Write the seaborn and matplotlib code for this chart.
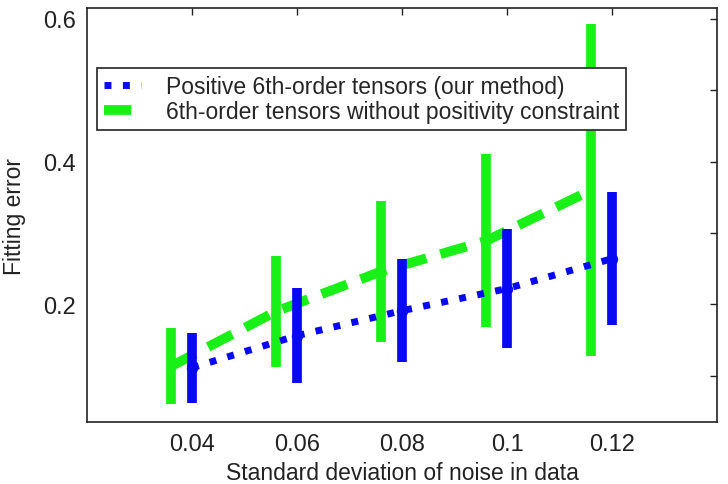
import numpy as np
import pandas as pd
import matplotlib
matplotlib.use('Agg')
import matplotlib.pyplot as plt
import seaborn as sns

sns.set_style('white')
plt.rcParams['font.family'] = ['Liberation Sans', 'DejaVu Sans']

# noise levels (green series is drawn slightly shifted left in the original)
noise_pos = [0.04, 0.06, 0.08, 0.10, 0.12]
noise_free = [0.036, 0.056, 0.076, 0.096, 0.116]

err_pos_mean = [0.111, 0.156, 0.191, 0.222, 0.264]
err_pos_std = [0.049, 0.067, 0.072, 0.084, 0.093]

err_free_mean = [0.113, 0.190, 0.246, 0.289, 0.360]
err_free_std = [0.053, 0.078, 0.099, 0.121, 0.233]

label_pos = 'Positive 6th-order tensors (our method)'
label_free = '6th-order tensors without positivity constraint'

blue = '#0808f2'
green = '#18f018'

df_pos = pd.DataFrame({'noise': noise_pos, 'err': err_pos_mean})
df_free = pd.DataFrame({'noise': noise_free, 'err': err_free_mean})

fig = plt.figure(figsize=(7.28, 4.85), dpi=100)
ax = fig.add_axes([0.1195, 0.128, 0.866, 0.853])

# green series: bars + dashed mean line
ax.errorbar(noise_free, err_free_mean, yerr=err_free_std, fmt='none',
            ecolor=green, elinewidth=7, capsize=0, zorder=2)
sns.lineplot(data=df_free, x='noise', y='err', ax=ax, color=green, lw=7,
             linestyle=(0, (2.8, 1.5)), label=label_free, zorder=2)

# blue series: bars + dotted mean line with open circles
ax.errorbar(noise_pos, err_pos_mean, yerr=err_pos_std, fmt='none',
            ecolor=blue, elinewidth=7, capsize=0, zorder=3)
sns.lineplot(data=df_pos, x='noise', y='err', ax=ax, color=blue, lw=5,
             linestyle=':', marker='o', markersize=7, markerfacecolor='none',
             markeredgecolor=blue, markeredgewidth=1.2, label=label_pos, zorder=3)

ax.set_xlim(0.02, 0.14)
ax.set_ylim(0.035, 0.615)
ax.set_xticks([0.04, 0.06, 0.08, 0.10, 0.12])
ax.set_xticklabels(['0.04', '0.06', '0.08', '0.1', '0.12'])
ax.set_yticks([0.1, 0.2, 0.3, 0.4, 0.5, 0.6])
ax.set_yticklabels(['', '0.2', '', '0.4', '', '0.6'])
ax.tick_params(direction='in', length=5, width=1, top=True, right=True,
               labelsize=17, colors='#222222', pad=8)
for s in ax.spines.values():
    s.set_color('#222222')
    s.set_linewidth(1.2)

ax.set_xlabel('Standard deviation of noise in data', fontsize=16.5, color='#222222', labelpad=4)
ax.set_ylabel('Fitting error', fontsize=16.5, color='#222222', labelpad=12)

handles, labels = ax.get_legend_handles_labels()
order = [labels.index(label_pos), labels.index(label_free)]
leg = ax.legend([handles[i] for i in order], [labels[i] for i in order],
                loc='upper left', bbox_to_anchor=(0.0159, 0.855), borderaxespad=0,
                fontsize=16.5, frameon=True, fancybox=False, framealpha=1,
                edgecolor='#222222', handlelength=1.6, handletextpad=1.1,
                labelspacing=0.1, borderpad=0.3)
leg.get_frame().set_linewidth(1.2)
leg.set_zorder(5)
for h in leg.get_lines():
    h.set_marker('')

fig.savefig('out.png', dpi=100)
